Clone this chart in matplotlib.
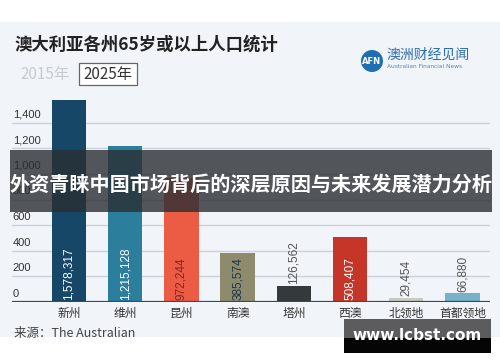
import matplotlib
matplotlib.use("Agg")
import matplotlib.pyplot as plt
from matplotlib.patches import Rectangle, Ellipse

plt.rcParams['font.family'] = ['Noto Sans CJK SC', 'DejaVu Sans']

states = ['新州', '维州', '昆州', '南澳', '塔州', '西澳', '北领地', '首都领地']
values = [1578317, 1215128, 972244, 385574, 126562, 508407, 29454, 66880]
colors = ['#164766', '#2c7f9c', '#ec5b44', '#8e8b6d', '#343a3b', '#c53528', '#c9cac2', '#77b1c9']
label_colors = ['white', 'white', '#7a2a20', '#1c3550', '#555555', 'white', '#555555', '#555555']
label_inside = [True, True, True, True, False, True, False, False]
yticks = [0, 200, 400, 600, 800, 1000, 1200, 1400]
title = '澳大利亚各州65岁或以上人口统计'
banner = '外资青睐中国市场背后的深层原因与未来发展潜力分析'

W, H = 500, 362
fig = plt.figure(figsize=(W / 100, H / 100), dpi=100)
fig.patch.set_facecolor('white')
NUMF = ['Liberation Sans', 'DejaVu Sans']

def fx(x):
    return x / W

def fy(y):
    return 1 - y / H

def frect(x0, y0, x1, y1, **kw):
    r = Rectangle((fx(x0), fy(y1)), fx(x1) - fx(x0), (y1 - y0) / H,
                  transform=fig.transFigure, **kw)
    fig.add_artist(r)
    return r

# panel background
frect(0, 22, 500, 337, facecolor='#f1f5fa', edgecolor='none', zorder=0)

# chart axes
base_y = 302
px_per_k = 25.6 / 200
top_k = 1650
ax = fig.add_axes([fx(12), fy(base_y), fx(490) - fx(12), top_k * px_per_k / H])
ax.set_facecolor('none')
ax.set_xlim(-1.014, 7.49)
ax.set_ylim(0, top_k)
for s in ax.spines.values():
    s.set_visible(False)
ax.set_xticks([])
ax.set_yticks([])

for t in yticks:
    if t > 0:
        ax.axhline(t, color='#c9d1da', lw=1.0, zorder=1)
    ax.text(-1.0, t + 25, f'{t:,}', ha='left', va='bottom', fontsize=8,
            color='#333333', family=NUMF, zorder=2)
ax.axhline(0, color='#2b4f63', lw=1.6, zorder=4)

xs = list(range(len(states)))
vk = [v / 1000 for v in values]
ax.bar(xs, vk, width=0.61, color=colors, zorder=3)
for x, v, val, c, inside in zip(xs, vk, values, label_colors, label_inside):
    y0 = 14 if inside else v + 14
    ax.text(x, y0, f'{val:,}', rotation=90, ha='center', va='bottom',
            fontsize=8.5, color=c, family=NUMF, zorder=5)
    ax.text(x, -40, states[x], ha='center', va='top', fontsize=8.5,
            color='#333333', zorder=5)

# title and year selector
fig.text(fx(14), fy(45), title, ha='left', va='center', fontsize=12.5,
         fontweight='bold', color='#222222')
fig.text(fx(20), fy(74), '2015年', ha='left', va='center', fontsize=11,
         color='#c6cbd1')
frect(79, 63, 137, 85, facecolor='white', edgecolor='#666666', lw=0.9, zorder=2)
fig.text(fx(108), fy(74), '2025年', ha='center', va='center', fontsize=11,
         color='#333333', zorder=3)

# logo
fig.add_artist(Ellipse((fx(372), fy(61)), 22 / W, 22 / H, transform=fig.transFigure,
                       facecolor='#1f6db3', edgecolor='none'))
fig.text(fx(372), fy(61), 'AFN', ha='center', va='center', fontsize=6,
         color='white', fontweight='bold', family='DejaVu Sans')
fig.text(fx(386), fy(55), '澳洲财经见闻', ha='left', va='center', fontsize=10,
         color='#2a6db3')
fig.text(fx(387), fy(67), 'Australian Financial News', ha='left', va='center',
         fontsize=4.2, color='#5f83aa', family='DejaVu Sans')

# source
fig.text(fx(14), fy(333), '来源：The Australian', ha='left', va='center',
         fontsize=9, color='#444444')

# overlay banner
frect(10, 150, 492, 212, facecolor='#2a2e33', alpha=0.8, edgecolor='none', zorder=10)
fig.text(fx(251), fy(184), banner, ha='center', va='center', fontsize=14.5,
         fontweight='bold', color='white', zorder=11)

# site watermark box
frect(344, 319, 491, 338, facecolor='#5c5c5e', edgecolor='none', zorder=10)
frect(344, 338, 491, 353, facecolor='#050505', edgecolor='none', zorder=10)
fig.text(fx(417), fy(335), 'www.lcbst.com', ha='center', va='center',
         fontsize=11, fontweight='bold', color='white', family='DejaVu Sans',
         zorder=11)

fig.savefig('out.png', dpi=100, facecolor='white')
